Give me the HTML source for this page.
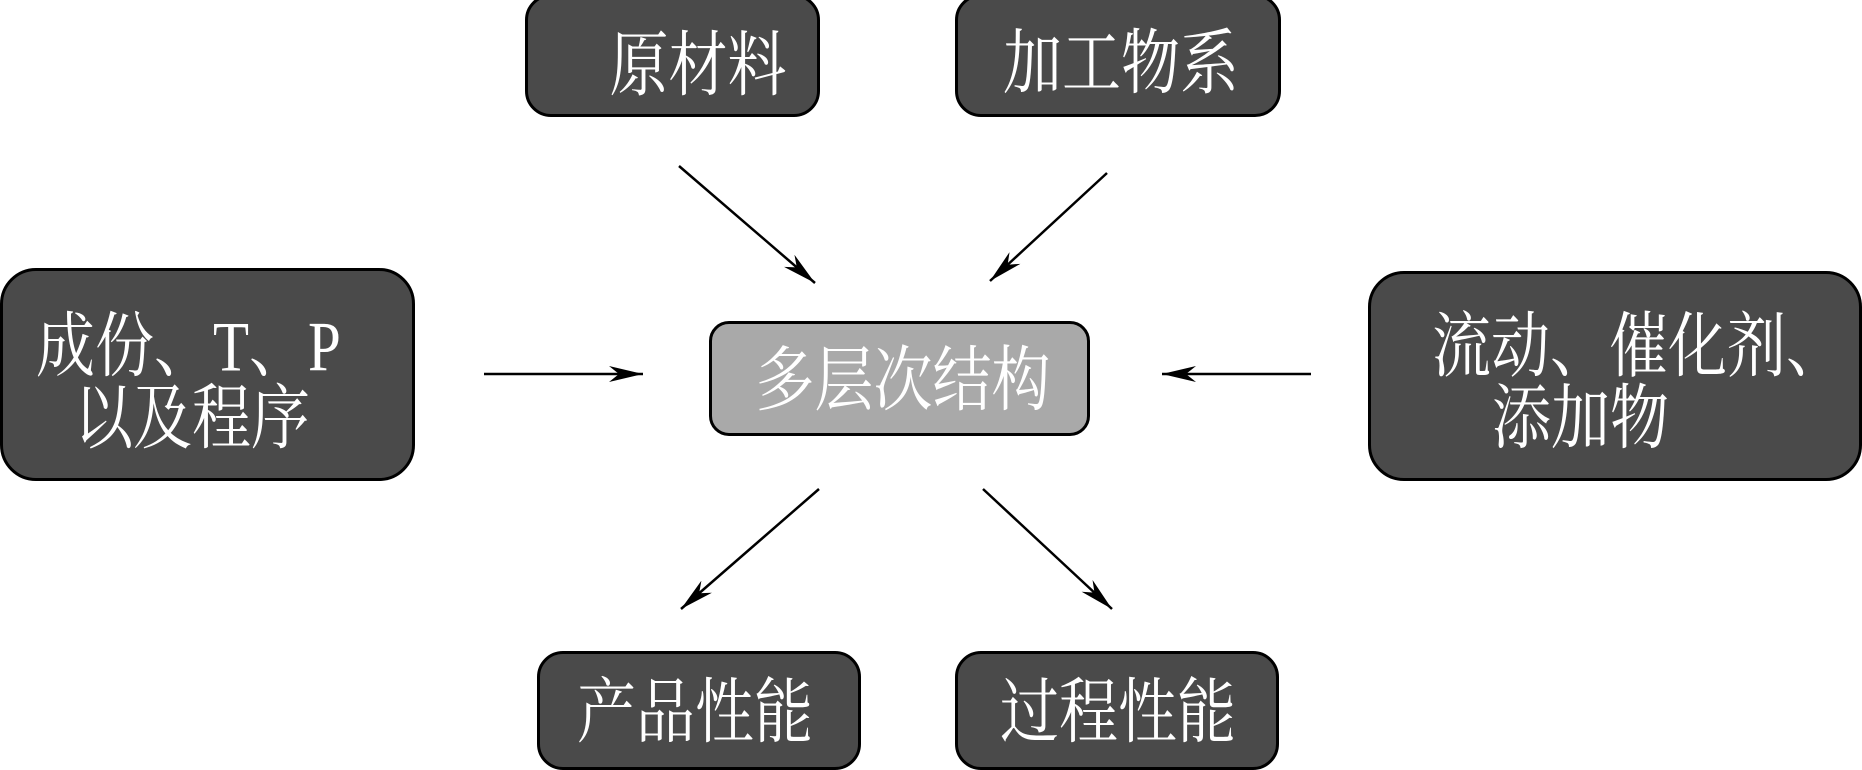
<!DOCTYPE html>
<html><head><meta charset="utf-8"><style>
html,body{margin:0;padding:0;background:#fff;width:1862px;height:770px;overflow:hidden;position:relative}
.b{position:absolute;box-sizing:border-box;border:3px solid #000;border-radius:26px;background:#4a4a4a}
.t{position:absolute;color:#fff;font-family:"Liberation Serif","Noto Serif CJK SC",serif;font-size:59px;line-height:1;white-space:nowrap;transform:translate(-50%,-50%) scaleY(1.2)}
.l{position:absolute;color:#fff;font-family:"Liberation Serif","Noto Serif CJK SC",serif;font-size:59px;line-height:1;white-space:nowrap;transform:translateY(-50%) scaleY(1.2);transform-origin:left center}
svg{position:absolute;left:0;top:0}
</style></head><body>
<div class="b" style="left:525px;top:-6px;width:295px;height:123px"></div>
<div class="b" style="left:955px;top:-6px;width:326px;height:123px"></div>
<div class="b" style="left:0;top:268px;width:415px;height:213px;border-radius:36px"></div>
<div class="b" style="left:709px;top:321px;width:381px;height:115px;background:#a9a9a9;border-radius:20px"></div>
<div class="b" style="left:1368px;top:271px;width:494px;height:210px;border-radius:36px"></div>
<div class="b" style="left:537px;top:651px;width:324px;height:119px"></div>
<div class="b" style="left:955px;top:651px;width:324px;height:119px"></div>

<div class="t" style="left:698px;top:66px">原材料</div>
<div class="t" style="left:1121px;top:64px">加工物系</div>
<div class="l" style="left:36px;top:347px">成份、T、P</div>
<div class="l" style="left:74px;top:419px">以及程序</div>
<div class="t" style="left:903px;top:381px">多层次结构</div>
<div class="l" style="left:1432px;top:347px">流动、催化剂、</div>
<div class="l" style="left:1492px;top:419px">添加物</div>
<div class="t" style="left:695px;top:713px">产品性能</div>
<div class="t" style="left:1118px;top:713px">过程性能</div>

<svg width="1862" height="770">
<defs><marker id="a" viewBox="0 0 34 16" refX="34" refY="8" markerWidth="34" markerHeight="16" markerUnits="userSpaceOnUse" orient="auto"><path d="M0,0 L34,8 L0,16 L10,8 Z" fill="#000"/></marker></defs>
<g stroke="#000" stroke-width="2.5" marker-end="url(#a)">
<line x1="679" y1="166" x2="815" y2="283"/>
<line x1="1107" y1="173" x2="990" y2="281"/>
<line x1="484" y1="374" x2="643" y2="374"/>
<line x1="1311" y1="374" x2="1162" y2="374"/>
<line x1="819" y1="489" x2="681" y2="609"/>
<line x1="983" y1="489" x2="1112" y2="609"/>
</g></svg>
</body></html>
